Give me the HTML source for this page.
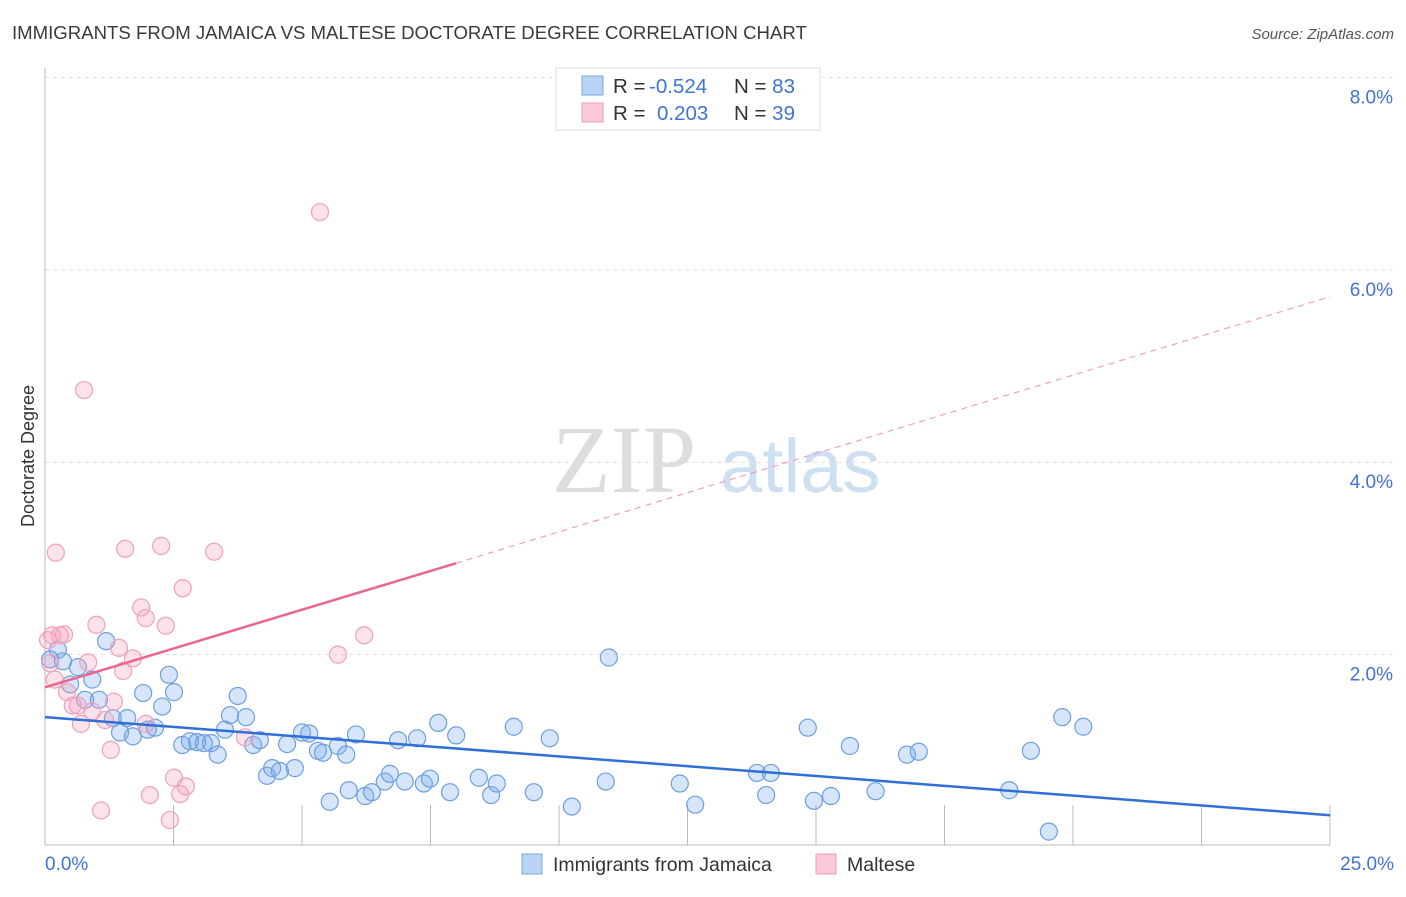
<!DOCTYPE html>
<html><head><meta charset="utf-8"><style>
body{margin:0;background:#fff;font-family:"Liberation Sans",sans-serif;}
svg text{font-family:"Liberation Sans",sans-serif;}
</style></head><body>
<svg id="chart" width="1406" height="892" xmlns="http://www.w3.org/2000/svg">
<text x="12" y="39" font-size="18.6" fill="#3a3a3a">IMMIGRANTS FROM JAMAICA VS MALTESE DOCTORATE DEGREE CORRELATION CHART</text>
<text x="1394" y="39" font-size="15" fill="#555" text-anchor="end" font-style="italic">Source: ZipAtlas.com</text>
<text transform="translate(34,456) rotate(-90)" font-size="18" fill="#333" text-anchor="middle">Doctorate Degree</text>
<text x="552" y="492" font-size="96" fill="#ddd" font-family="Liberation Serif" style="font-family:'Liberation Serif',serif">ZIP</text>
<text x="720" y="492" font-size="76" fill="#cfdff2">atlas</text>
<g id="grid"></g><g id="axes"></g><g id="pts"></g><g id="lines"></g>
<g>
<rect x="556" y="68" width="264" height="62" fill="#fff" stroke="#ddd"/>
<rect x="582" y="76" width="21" height="19" fill="#b9d3f5" stroke="#7aa7e6"/>
<rect x="582" y="103" width="21" height="19" fill="#fcc9d8" stroke="#ef9ab6"/>
<text x="613" y="93" font-size="20.5" fill="#333">R = <tspan x="649" fill="#3f74d3">-0.524</tspan><tspan x="734">N = </tspan><tspan fill="#3f74d3">83</tspan></text>
<text x="613" y="120" font-size="20.5" fill="#333">R = <tspan x="657" fill="#3f74d3">0.203</tspan><tspan x="734">N = </tspan><tspan fill="#3f74d3">39</tspan></text>
</g>
<g>
<rect x="522" y="854" width="20" height="20" fill="#b9d3f5" stroke="#7aa7e6"/>
<text x="553" y="871" font-size="19.5" fill="#333">Immigrants from Jamaica</text>
<rect x="816" y="854" width="20" height="20" fill="#fcc9d8" stroke="#ef9ab6"/>
<text x="847" y="871" font-size="19.5" fill="#333">Maltese</text>
</g>
</svg>
<script>
const blueX=[0.1,0.25,0.35,0.49,0.64,0.78,0.92,1.05,1.19,1.32,1.46,1.6,1.71,1.91,2.0,2.14,2.28,2.41,2.51,2.67,2.82,2.96,3.09,3.23,3.36,3.5,3.6,3.75,3.91,4.05,4.18,4.32,4.42,4.57,4.71,4.86,5.0,5.14,5.31,5.41,5.54,5.7,5.86,5.91,6.05,6.23,6.36,6.61,6.71,6.87,7.0,7.24,7.37,7.49,7.65,7.88,8.0,8.44,8.68,8.79,9.12,9.51,9.82,10.25,10.91,10.97,12.35,12.65,13.85,14.03,14.12,14.84,14.96,15.29,15.66,16.16,16.77,17.0,18.76,19.18,19.53,19.79,20.2];
const blueY=[1.95,2.05,1.93,1.69,1.87,1.53,1.74,1.53,2.14,1.34,1.19,1.34,1.15,1.6,1.22,1.24,1.46,1.79,1.61,1.06,1.10,1.09,1.08,1.08,0.96,1.22,1.37,1.57,1.35,1.06,1.11,0.74,0.82,0.79,1.07,0.82,1.19,1.18,1.0,0.98,0.47,1.05,0.96,0.59,1.17,0.53,0.57,0.68,0.76,1.11,0.68,1.13,0.66,0.71,1.29,0.57,1.16,0.72,0.54,0.66,1.25,0.57,1.13,0.42,0.68,1.97,0.66,0.44,0.77,0.54,0.77,1.24,0.48,0.53,1.05,0.58,0.96,0.99,0.59,1.0,0.16,1.35,1.25];
const pinkX=[0.1,0.14,0.21,0.29,0.37,0.43,0.54,0.64,0.7,0.76,0.84,0.92,1.0,1.09,1.17,1.28,1.34,1.44,1.52,1.56,1.71,1.87,1.96,1.96,2.04,2.26,2.35,2.43,2.51,2.63,2.68,2.74,3.29,3.89,5.35,5.7,6.21,0.06,0.19];
const pinkY=[1.91,2.2,3.06,2.2,2.21,1.61,1.47,1.47,1.28,4.75,1.92,1.41,2.31,0.38,1.32,1.01,1.51,2.07,1.83,3.1,1.96,2.49,1.28,2.38,0.54,3.13,2.3,0.28,0.72,0.55,2.69,0.63,3.07,1.14,6.6,2.0,2.2,2.15,1.74];
const blueLine=[[0,1.35],[25,0.33]];
const pinkSolid=[[0,1.66],[8,2.95]];
const pinkDash=[[8,2.95],[25,5.72]];
const yTicks=[2,4,6,8];
const xTickLabels=["0.0%","25.0%"];
const NS="http://www.w3.org/2000/svg";
const X0=45,X1=1330,Y0=847;
function sx(v){return X0+v*(X1-X0)/25;}
function sy(v){return Y0-v*96.2;}
function mk(tag,attrs,parent){const e=document.createElementNS(NS,tag);for(const k in attrs)e.setAttribute(k,attrs[k]);document.getElementById(parent).appendChild(e);return e;}
yTicks.forEach(t=>{
 const l=mk('line',{x1:45,x2:1394,y1:sy(t),y2:sy(t),stroke:'#ddd','stroke-dasharray':'4,4'},'grid');
 
 
 const tx=mk('text',{x:1393,y:sy(t)+26,'font-size':19,fill:'#3f74d3','text-anchor':'end'},'grid');
 tx.textContent=t.toFixed(1)+'%';
 
 
});
const ax=mk('line',{x1:45,x2:45,y1:68,y2:845,stroke:'#bbb'},'axes');


const bx=mk('line',{x1:45,x2:1330,y1:845,y2:845,stroke:'#bbb'},'axes');


for(let i=0;i<=10;i++){const x=sx(i*2.5);const t=mk('line',{x1:x,x2:x,y1:i==0?845:805,y2:845,stroke:'#bbb'},'axes');
 
 }
xTickLabels.forEach((s,i)=>{const t=mk('text',{x:i?1394:45,y:870,'font-size':19,fill:'#3f74d3','text-anchor':i?'end':'start'},'axes');t.textContent=s;
 
 });
blueX.forEach((v,i)=>{const c=mk('circle',{cx:sx(v),cy:sy(blueY[i]),r:8.5,fill:'rgba(120,170,235,0.3)',stroke:'#6d9fe0','stroke-width':1.2},'pts');
 
 });
pinkX.forEach((v,i)=>{const c=mk('circle',{cx:sx(v),cy:sy(pinkY[i]),r:8.5,fill:'rgba(245,160,190,0.3)',stroke:'#f0a0bb','stroke-width':1.2},'pts');
 
 });
const bl=mk('line',{x1:sx(blueLine[0][0]),y1:sy(blueLine[0][1]),x2:sx(blueLine[1][0]),y2:sy(blueLine[1][1]),stroke:'#2f6fd6','stroke-width':2.5},'lines');


const pl=mk('line',{x1:sx(pinkSolid[0][0]),y1:sy(pinkSolid[0][1]),x2:sx(pinkSolid[1][0]),y2:sy(pinkSolid[1][1]),stroke:'#e8668f','stroke-width':2.5},'lines');


const pd=mk('line',{x1:sx(pinkDash[0][0]),y1:sy(pinkDash[0][1]),x2:sx(pinkDash[1][0]),y2:sy(pinkDash[1][1]),stroke:'#eea0b8','stroke-width':1.2,'stroke-dasharray':'6,5'},'lines');


</script>
</body></html>
